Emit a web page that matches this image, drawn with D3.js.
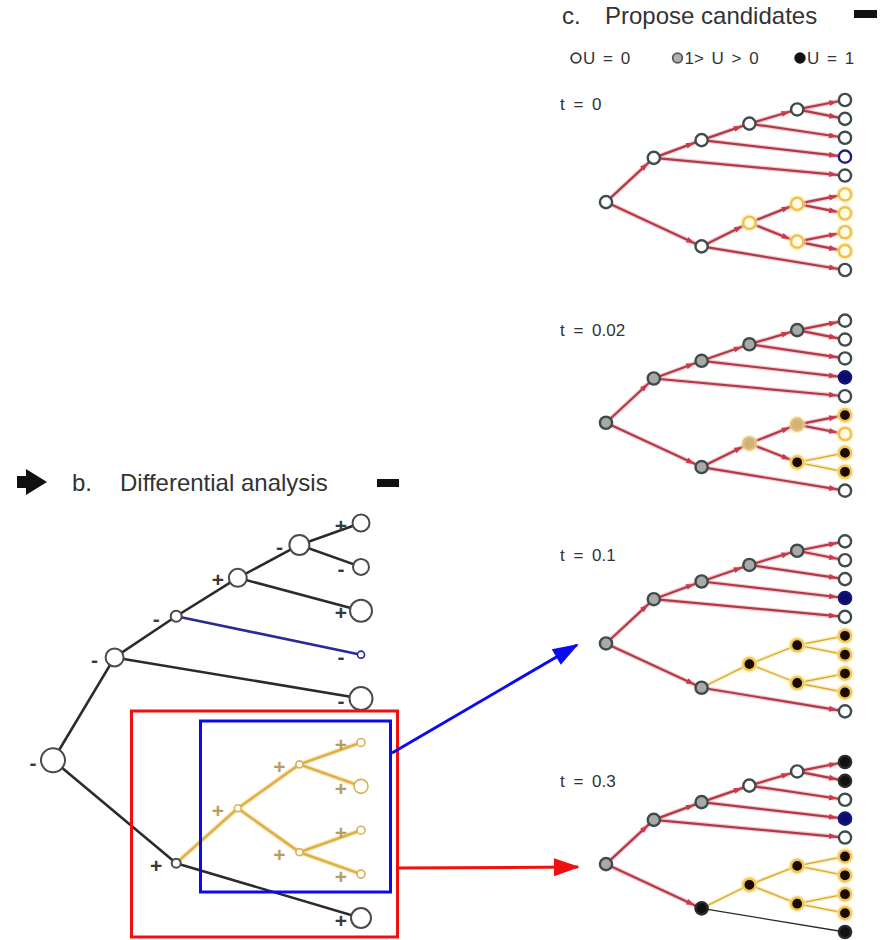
<!DOCTYPE html>
<html><head><meta charset="utf-8">
<script src="https://cdn.jsdelivr.net/npm/d3@7"></script>
<style>
body{margin:0;background:#fff}
svg{display:block}
text{font-family:"Liberation Sans",Arial,Helvetica,sans-serif}
</style>
</head><body>
<svg id="chart" width="883" height="940"></svg>
<script>
// ---------------- data ----------------
const nodeIds     = ["root","A","B","C","D","L1","L2","L3","L4","L5","E","F","G","H","L6","L7","L8","L9","L10"];
const parentIds   = [null,"root","A","B","C","D","D","C","B","A","root","E","F","F","G","G","H","H","E"];
const nodeColumns = [0,1,2,3,4,5,5,5,5,5,2,3,4,4,5,5,5,5,5];
const nodeGroups  = ["base","base","base","base","base","base","base","base","blue","base","base","gold","gold","gold","gold","gold","gold","gold","base"];
// panel b: differential signs and node sizes
const diffSigns   = ["-","-","-","+","-","+","-","+","-","-","+","+","+","+","+","+","+","+","+"];
const diffSizes   = [12,9,5.5,9,10,8.5,8,11,3.5,11.5,4.5,3.5,3.5,3.5,4,7,4,4,10];
// panel c: time steps, U state of every node (0, p = 0<U<1, 1) and edge states (r = candidate, y = accepted, k = plain)
const timeLabels  = ["t = 0","t = 0.02","t = 0.1","t = 0.3"];
const uT0   = ["0","0","0","0","0","0","0","0","0","0","0","0","0","0","0","0","0","0","0"];
const uT002 = ["p","p","p","p","p","0","0","0","1","0","p","p","p","1","1","0","1","1","0"];
const uT01  = ["p","p","p","p","p","0","0","0","1","0","p","1","1","1","1","1","1","1","0"];
const uT03  = ["p","p","p","0","0","1","1","0","1","0","1","1","1","1","1","1","1","1","1"];
const eT0   = ["","r","r","r","r","r","r","r","r","r","r","r","r","r","r","r","r","r","r"];
const eT002 = ["","r","r","r","r","r","r","r","r","r","r","r","r","r","r","r","y","y","r"];
const eT01  = ["","r","r","r","r","r","r","r","r","r","r","y","y","y","y","y","y","y","r"];
const eT03  = ["","r","r","r","r","r","r","r","r","r","r","y","y","y","y","y","y","y","k"];
const uStates = [uT0,uT002,uT01,uT03];
const edgeStates = [eT0,eT002,eT01,eT03];
const legendLabels = ["U = 0","1> U > 0","U = 1"];
const legendStates = ["0","p","1"];

// ---------------- helpers ----------------
const svg = d3.select("#chart");
const defs = svg.append("defs");
defs.append("marker").attr("id","ah").attr("markerUnits","userSpaceOnUse")
  .attr("viewBox","0 -3 8 6").attr("markerWidth",8).attr("markerHeight",6)
  .attr("refX",16).attr("refY",0).attr("orient","auto").style("overflow","visible")
  .append("path").attr("d","M0,-3L8,0L0,3Z").attr("fill","#cc3a4a");
function bigHead(id,color){
  defs.append("marker").attr("id",id).attr("markerUnits","userSpaceOnUse")
    .attr("viewBox","0 -9 26 18").attr("markerWidth",26).attr("markerHeight",18)
    .attr("refX",24).attr("refY",0).attr("orient","auto").style("overflow","visible")
    .append("path").attr("d","M0,-9L26,0L0,9Z").attr("fill",color);
}
bigHead("bh","#0b0bf0");
bigHead("rh","#f01010");

const nodeRows = nodeIds.map((id,i)=>({id, parent:parentIds[i], col:nodeColumns[i], group:nodeGroups[i], i}));

function layout(xs, ys){
  const root = d3.stratify().id(d=>d.id).parentId(d=>d.parent)(nodeRows);
  let k = 0;
  root.eachBefore(n=>{ if(!n.children) n.li = k++; });
  root.eachAfter(n=>{
    n.py = n.children ? d3.mean(n.children, c=>c.py) : ys(n.li);
    n.px = xs(n.data.col);
  });
  return root;
}

// ---------------- panel b ----------------
const bx = d3.scaleLinear().domain([0,5]).range([53,361]);
const by = d3.scaleLinear().domain([0,9]).range([523,918]);
const bTree = layout(bx, by);
const bG = svg.append("g");
const bEdgeColor = {base:"#2b2b2b", blue:"#2b2b92", gold:"#dfb048"};
const bLinks = bTree.links();
bG.selectAll("line.halo").data(bLinks.filter(l=>l.target.data.group==="gold")).join("line")
  .attr("x1",d=>d.source.px).attr("y1",d=>d.source.py).attr("x2",d=>d.target.px).attr("y2",d=>d.target.py)
  .attr("stroke","#f7e2a6").attr("stroke-width",5).attr("stroke-linecap","round").attr("opacity",0.7);
bG.selectAll("line.edge").data(bLinks).join("line")
  .attr("x1",d=>d.source.px).attr("y1",d=>d.source.py).attr("x2",d=>d.target.px).attr("y2",d=>d.target.py)
  .attr("stroke",d=>bEdgeColor[d.target.data.group]).attr("stroke-width",2.6);
const bNodes = bTree.descendants();
bG.selectAll("circle").data(bNodes).join("circle")
  .attr("cx",d=>d.px).attr("cy",d=>d.py).attr("r",d=>diffSizes[d.data.i])
  .attr("fill","#fff")
  .attr("stroke",d=>d.data.group==="gold"?"#d9b052":d.data.group==="blue"?"#2424a0":"#4a4a4a")
  .attr("stroke-width",d=>d.data.group==="base"?2:1.6);
bG.selectAll("text").data(bNodes).join("text")
  .attr("x",d=>d.px-20).attr("y",d=>d.py+2)
  .attr("text-anchor","middle").attr("dominant-baseline","central")
  .attr("font-size",21).attr("font-weight","bold")
  .attr("fill",d=>d.data.group==="gold"?"#b89d62":"#3a3a3a")
  .text(d=>diffSigns[d.data.i]);

// title b
svg.append("path").attr("d","M17,476H26V469L47,482L26,495V488H17Z").attr("fill","#111");
svg.append("text").attr("x",72).attr("y",491).attr("font-size",24).attr("fill","#333").text("b.");
svg.append("text").attr("x",120).attr("y",491).attr("font-size",24).attr("fill","#333").text("Differential analysis");
svg.append("rect").attr("x",377).attr("y",479).attr("width",22).attr("height",8).attr("fill","#111");

// highlight boxes and connectors
svg.append("rect").attr("x",131.5).attr("y",711).attr("width",266).attr("height",226)
  .attr("fill","none").attr("stroke","#f01010").attr("stroke-width",3);
svg.append("rect").attr("x",200.5).attr("y",721).attr("width",190).attr("height",171)
  .attr("fill","none").attr("stroke","#0b0bf0").attr("stroke-width",3);
svg.append("line").attr("x1",392).attr("y1",753).attr("x2",577).attr("y2",645)
  .attr("stroke","#0b0bf0").attr("stroke-width",3).attr("marker-end","url(#bh)");
svg.append("line").attr("x1",398).attr("y1",868).attr("x2",578).attr("y2",867)
  .attr("stroke","#f01010").attr("stroke-width",3).attr("marker-end","url(#rh)");

// ---------------- panel c ----------------
svg.append("text").attr("x",562).attr("y",24).attr("font-size",24).attr("fill","#333").text("c.");
svg.append("text").attr("x",605).attr("y",24).attr("font-size",24).attr("fill","#333").text("Propose candidates");
svg.append("rect").attr("x",854).attr("y",10).attr("width",23).attr("height",8).attr("fill","#111");

const nodeStyle = {
  base:{"0":["#ffffff","#3d4b4a"], p:["#a9a9a9","#3d4b4a"], "1":["#111111","#2a2a2a"]},
  blue:{"0":["#ffffff","#1c1c8a"], p:["#6a6ab0","#1c1c8a"], "1":["#0c0c6c","#14147a"]},
  gold:{"0":["#fffbe6","#efc04a"], p:["#d3b173","#dcbf86"], "1":["#1b0a02","#f0c850"]}
};
const legendStyle = {"0":["#ffffff","#333"], p:["#b0b0b0","#555"], "1":["#111","#111"]};

const legX = [576,677.5,800];
const lg = svg.append("g");
legendLabels.forEach((lab,i)=>{
  const st = legendStyle[legendStates[i]];
  lg.append("circle").attr("cx",legX[i]).attr("cy",58).attr("r",4.8)
    .attr("fill",st[0]).attr("stroke",st[1]).attr("stroke-width",1.8);
  lg.append("text").attr("x",legX[i]+7).attr("y",64).attr("font-size",17)
    .attr("word-spacing",3).attr("fill","#333").text(lab);
});

const cx = d3.scaleLinear().domain([0,5]).range([606,845]);
const cy = d3.scaleLinear().domain([0,9]).range([100,270]);
const tOffset = d3.scalePoint().domain(timeLabels).range([0,662]);
const tLabelY = d3.scalePoint().domain(timeLabels).range([110,787]);
const cTree = layout(cx, cy);
const cLinks = cTree.links();
const cNodes = cTree.descendants();

timeLabels.forEach((lab,k)=>{
  const g = svg.append("g").attr("transform",`translate(0,${tOffset(lab)})`);
  const us = uStates[k], es = edgeStates[k];
  svg.append("text").attr("x",560).attr("y",tLabelY(lab)).attr("font-size",17)
    .attr("word-spacing",4).attr("fill","#333").text(lab);
  const st = l=>es[l.target.data.i];
  g.selectAll("line.halo").data(cLinks.filter(l=>st(l)!=="k")).join("line")
    .attr("x1",d=>d.source.px).attr("y1",d=>d.source.py).attr("x2",d=>d.target.px).attr("y2",d=>d.target.py)
    .attr("stroke",d=>st(d)==="r"?"#f3a9b1":"#f8e29a").attr("stroke-width",d=>st(d)==="r"?4.5:4)
    .attr("opacity",0.6);
  g.selectAll("line.edge").data(cLinks).join("line")
    .attr("x1",d=>d.source.px).attr("y1",d=>d.source.py).attr("x2",d=>d.target.px).attr("y2",d=>d.target.py)
    .attr("stroke",d=>st(d)==="r"?"#b03a48":st(d)==="y"?"#d8a828":"#2a2a2a")
    .attr("stroke-width",d=>st(d)==="r"?2.2:1.3)
    .attr("marker-end",d=>st(d)==="r"?"url(#ah)":null);
  g.selectAll("circle.glow").data(cNodes.filter(n=>n.data.group==="gold")).join("circle")
    .attr("cx",d=>d.px).attr("cy",d=>d.py).attr("r",9).attr("fill","#fbe7a4").attr("opacity",0.55);
  g.selectAll("circle.node").data(cNodes).join("circle")
    .attr("cx",d=>d.px).attr("cy",d=>d.py).attr("r",6.1)
    .attr("fill",d=>nodeStyle[d.data.group][us[d.data.i]][0])
    .attr("stroke",d=>nodeStyle[d.data.group][us[d.data.i]][1])
    .attr("stroke-width",2.4);
});
</script>
</body></html>
